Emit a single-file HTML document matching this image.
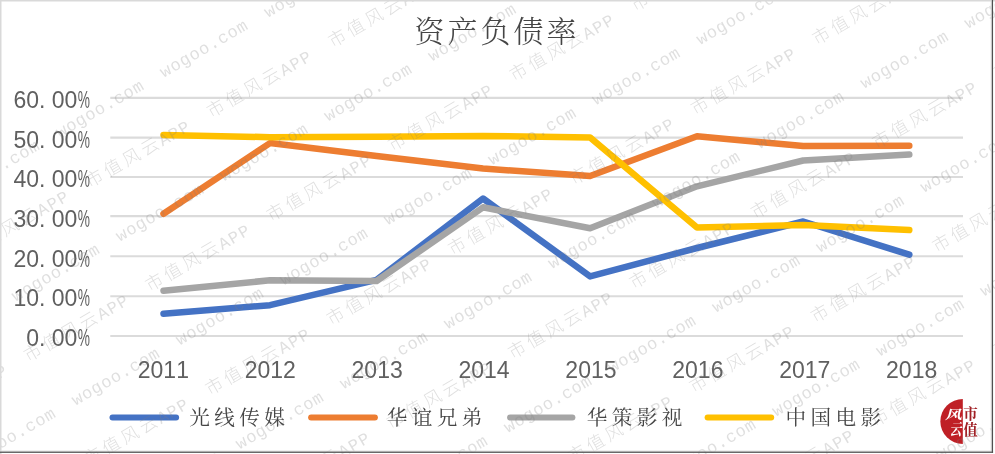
<!DOCTYPE html>
<html lang="zh"><head><meta charset="utf-8"><title>资产负债率</title>
<style>html,body{margin:0;padding:0;background:#fff;}svg{display:block;will-change:transform}.ax{font-family:"Liberation Sans",sans-serif;font-size:23px;fill:#606060}.kai{font-family:"Liberation Serif","Noto Serif CJK SC",serif;fill:#454545;font-weight:300}.wm{fill:#7f7f7f;fill-opacity:0.25}.wl{font-family:"Liberation Mono","DejaVu Sans Mono",monospace;font-size:17px}.wc{font-family:"Liberation Sans","Noto Sans CJK SC",sans-serif;font-size:17.6px;font-weight:300}</style></head><body>
<svg width="995" height="454" viewBox="0 0 995 454">
<rect x="0" y="0" width="995" height="454" fill="#ffffff"/>
<line x1="110.3" y1="97.90" x2="963.0" y2="97.90" stroke="#dbdbdb" stroke-width="2.1"/>
<line x1="110.3" y1="137.60" x2="963.0" y2="137.60" stroke="#dbdbdb" stroke-width="2.1"/>
<line x1="110.3" y1="177.00" x2="963.0" y2="177.00" stroke="#dbdbdb" stroke-width="2.1"/>
<line x1="110.3" y1="216.10" x2="963.0" y2="216.10" stroke="#dbdbdb" stroke-width="2.1"/>
<line x1="110.3" y1="256.20" x2="963.0" y2="256.20" stroke="#dbdbdb" stroke-width="2.1"/>
<line x1="110.3" y1="296.20" x2="963.0" y2="296.20" stroke="#dbdbdb" stroke-width="2.1"/>
<line x1="110.3" y1="336.00" x2="963.0" y2="336.00" stroke="#dbdbdb" stroke-width="2.1"/>
<polyline points="163.5,313.8 270.0,305.2 376.6,279.8 483.0,198.5 590.1,276.4 697.0,248.0 803.2,221.5 909.3,254.7" fill="none" stroke="#4472c4" stroke-width="6.5" stroke-linecap="round" stroke-linejoin="round"/>
<polyline points="163.5,213.8 270.0,143.1 376.6,156.0 483.0,168.5 590.1,176.0 697.0,136.3 803.2,146.1 909.3,145.7" fill="none" stroke="#ed7d31" stroke-width="6.5" stroke-linecap="round" stroke-linejoin="round"/>
<polyline points="163.5,290.8 270.0,280.3 376.6,281.0 483.0,207.3 590.1,228.3 697.0,186.3 803.2,160.5 909.3,154.6" fill="none" stroke="#a5a5a5" stroke-width="6.5" stroke-linecap="round" stroke-linejoin="round"/>
<polyline points="163.5,135.0 270.0,137.2 376.6,136.7 483.0,135.9 590.1,137.5 697.0,227.4 803.2,225.0 909.3,230.1" fill="none" stroke="#ffc000" stroke-width="6.5" stroke-linecap="round" stroke-linejoin="round"/>
<text class="ax" x="13.40 26.15 38.90 51.65 64.40" y="107.90">60.00</text>
<text class="ax" x="77.75" y="107.90" textLength="12.2" lengthAdjust="spacingAndGlyphs">%</text>
<text class="ax" x="13.40 26.15 38.90 51.65 64.40" y="147.55">50.00</text>
<text class="ax" x="77.75" y="147.55" textLength="12.2" lengthAdjust="spacingAndGlyphs">%</text>
<text class="ax" x="13.40 26.15 38.90 51.65 64.40" y="187.20">40.00</text>
<text class="ax" x="77.75" y="187.20" textLength="12.2" lengthAdjust="spacingAndGlyphs">%</text>
<text class="ax" x="13.40 26.15 38.90 51.65 64.40" y="226.85">30.00</text>
<text class="ax" x="77.75" y="226.85" textLength="12.2" lengthAdjust="spacingAndGlyphs">%</text>
<text class="ax" x="13.40 26.15 38.90 51.65 64.40" y="266.50">20.00</text>
<text class="ax" x="77.75" y="266.50" textLength="12.2" lengthAdjust="spacingAndGlyphs">%</text>
<text class="ax" x="13.40 26.15 38.90 51.65 64.40" y="306.15">10.00</text>
<text class="ax" x="77.75" y="306.15" textLength="12.2" lengthAdjust="spacingAndGlyphs">%</text>
<text class="ax" x="26.15 38.90 51.65 64.40" y="345.80">0.00</text>
<text class="ax" x="77.75" y="345.80" textLength="12.2" lengthAdjust="spacingAndGlyphs">%</text>
<text class="ax" x="137.75 150.55 163.35 176.15" y="377.6">2011</text>
<text class="ax" x="244.65 257.45 270.25 283.05" y="377.6">2012</text>
<text class="ax" x="351.55 364.35 377.15 389.95" y="377.6">2013</text>
<text class="ax" x="458.45 471.25 484.05 496.85" y="377.6">2014</text>
<text class="ax" x="565.35 578.15 590.95 603.75" y="377.6">2015</text>
<text class="ax" x="672.25 685.05 697.85 710.65" y="377.6">2016</text>
<text class="ax" x="779.15 791.95 804.75 817.55" y="377.6">2017</text>
<text class="ax" x="886.05 898.85 911.65 924.45" y="377.6">2018</text>
<text class="kai" font-size="30" text-anchor="middle" x="429.5 462.5 495.5 528.5 561.5" y="42.4">资产负债率</text>
<line x1="112.5" y1="417.6" x2="176.1" y2="417.6" stroke="#4472c4" stroke-width="6" stroke-linecap="round"/>
<text class="kai" style="font-weight:400" font-size="20.6" text-anchor="middle" x="199.6 224.6 249.6 274.6" y="425.4">光线传媒</text>
<line x1="311.1" y1="417.6" x2="374.9" y2="417.6" stroke="#ed7d31" stroke-width="6" stroke-linecap="round"/>
<text class="kai" style="font-weight:400" font-size="20.6" text-anchor="middle" x="397.1 422.1 447.1 472.1" y="425.4">华谊兄弟</text>
<line x1="510.1" y1="417.6" x2="572.4" y2="417.6" stroke="#a5a5a5" stroke-width="6" stroke-linecap="round"/>
<text class="kai" style="font-weight:400" font-size="20.6" text-anchor="middle" x="597.1 622.1 647.1 672.1" y="425.4">华策影视</text>
<line x1="707.6" y1="417.6" x2="771.2" y2="417.6" stroke="#ffc000" stroke-width="6" stroke-linecap="round"/>
<text class="kai" style="font-weight:400" font-size="20.6" text-anchor="middle" x="795.9 820.9 845.9 870.9" y="425.4">中国电影</text>
<path d="M962.8,399.0 A22.45,22.45 0 0 0 962.8,443.9 Z" fill="#bf2026"/>
<g font-family="'Liberation Serif','Noto Serif CJK SC',serif" font-weight="700">
<text x="0" y="0" font-size="15.5" fill="#ffffff" text-anchor="middle" transform="translate(953.6,419.2) skewX(-14) scale(1.1,0.8)">风</text>
<text x="0" y="0" font-size="12" fill="#ffffff" text-anchor="middle" transform="translate(955.6,435.2) skewX(-10) scale(1,1.32)">云</text>
<text x="970.5" y="418.6" font-size="14.5" fill="#a01f24" text-anchor="middle">市</text>
<text x="970.5" y="435.3" font-size="14.5" fill="#a01f24" text-anchor="middle">值</text>
</g>
<g class="wm" transform="rotate(-30)">
<text class="wl" x="-377.8 -366.8 -355.8 -344.8 -333.8 -322.8 -311.8 -300.8 -289.8" y="149.3">wogoo.com</text>
<text class="wl" x="-257.6 -246.6 -235.6 -224.6 -213.6 -202.6 -191.6 -180.6 -169.6" y="149.3">wogoo.com</text>
<text class="wl" x="-137.4 -126.4 -115.4 -104.4 -93.4 -82.4 -71.4 -60.4 -49.4" y="149.3">wogoo.com</text>
<text class="wl" x="-17.2 -6.2 4.8 15.8 26.8 37.8 48.8 59.8 70.8" y="149.3">wogoo.com</text>
<text class="wl" x="103.0 114.0 125.0 136.0 147.0 158.0 169.0 180.0 191.0" y="149.3">wogoo.com</text>
<text class="wl" x="223.2 234.2 245.2 256.2 267.2 278.2 289.2 300.2 311.2" y="149.3">wogoo.com</text>
<text class="wl" x="343.4 354.4 365.4 376.4 387.4 398.4 409.4 420.4 431.4" y="149.3">wogoo.com</text>
<text class="wl" x="463.6 474.6 485.6 496.6 507.6 518.6 529.6 540.6 551.6" y="149.3">wogoo.com</text>
<text class="wl" x="583.8 594.8 605.8 616.8 627.8 638.8 649.8 660.8 671.8" y="149.3">wogoo.com</text>
<text class="wl" x="704.0 715.0 726.0 737.0 748.0 759.0 770.0 781.0 792.0" y="149.3">wogoo.com</text>
<text class="wl" x="824.2 835.2 846.2 857.2 868.2 879.2 890.2 901.2 912.2" y="149.3">wogoo.com</text>
<text><tspan class="wc" x="-296.7 -275.4 -254.1 -232.8" y="207.9">市值风云</tspan><tspan class="wl" x="-213.0 -201.5 -190.0" y="208.1">APP</tspan></text>
<text><tspan class="wc" x="-156.5 -135.2 -113.9 -92.6" y="207.9">市值风云</tspan><tspan class="wl" x="-72.8 -61.3 -49.8" y="208.1">APP</tspan></text>
<text><tspan class="wc" x="-16.3 5.0 26.3 47.6" y="207.9">市值风云</tspan><tspan class="wl" x="67.4 78.9 90.4" y="208.1">APP</tspan></text>
<text><tspan class="wc" x="123.8 145.2 166.4 187.8" y="207.9">市值风云</tspan><tspan class="wl" x="207.6 219.1 230.6" y="208.1">APP</tspan></text>
<text><tspan class="wc" x="264.1 285.4 306.7 328.0" y="207.9">市值风云</tspan><tspan class="wl" x="347.8 359.3 370.8" y="208.1">APP</tspan></text>
<text><tspan class="wc" x="404.2 425.6 446.9 468.1" y="207.9">市值风云</tspan><tspan class="wl" x="488.0 499.5 511.0" y="208.1">APP</tspan></text>
<text><tspan class="wc" x="544.4 565.7 587.0 608.3" y="207.9">市值风云</tspan><tspan class="wl" x="628.2 639.7 651.2" y="208.1">APP</tspan></text>
<text><tspan class="wc" x="684.6 705.9 727.2 748.5" y="207.9">市值风云</tspan><tspan class="wl" x="768.4 779.9 791.4" y="208.1">APP</tspan></text>
<text><tspan class="wc" x="824.9 846.1 867.5 888.8" y="207.9">市值风云</tspan><tspan class="wl" x="908.6 920.1 931.6" y="208.1">APP</tspan></text>
<text class="wl" x="-377.8 -366.8 -355.8 -344.8 -333.8 -322.8 -311.8 -300.8 -289.8" y="269.2">wogoo.com</text>
<text class="wl" x="-257.6 -246.6 -235.6 -224.6 -213.6 -202.6 -191.6 -180.6 -169.6" y="269.2">wogoo.com</text>
<text class="wl" x="-137.4 -126.4 -115.4 -104.4 -93.4 -82.4 -71.4 -60.4 -49.4" y="269.2">wogoo.com</text>
<text class="wl" x="-17.2 -6.2 4.8 15.8 26.8 37.8 48.8 59.8 70.8" y="269.2">wogoo.com</text>
<text class="wl" x="103.0 114.0 125.0 136.0 147.0 158.0 169.0 180.0 191.0" y="269.2">wogoo.com</text>
<text class="wl" x="223.2 234.2 245.2 256.2 267.2 278.2 289.2 300.2 311.2" y="269.2">wogoo.com</text>
<text class="wl" x="343.4 354.4 365.4 376.4 387.4 398.4 409.4 420.4 431.4" y="269.2">wogoo.com</text>
<text class="wl" x="463.6 474.6 485.6 496.6 507.6 518.6 529.6 540.6 551.6" y="269.2">wogoo.com</text>
<text class="wl" x="583.8 594.8 605.8 616.8 627.8 638.8 649.8 660.8 671.8" y="269.2">wogoo.com</text>
<text class="wl" x="704.0 715.0 726.0 737.0 748.0 759.0 770.0 781.0 792.0" y="269.2">wogoo.com</text>
<text class="wl" x="824.2 835.2 846.2 857.2 868.2 879.2 890.2 901.2 912.2" y="269.2">wogoo.com</text>
<text><tspan class="wc" x="-296.7 -275.4 -254.1 -232.8" y="327.8">市值风云</tspan><tspan class="wl" x="-213.0 -201.5 -190.0" y="328.0">APP</tspan></text>
<text><tspan class="wc" x="-156.5 -135.2 -113.9 -92.6" y="327.8">市值风云</tspan><tspan class="wl" x="-72.8 -61.3 -49.8" y="328.0">APP</tspan></text>
<text><tspan class="wc" x="-16.3 5.0 26.3 47.6" y="327.8">市值风云</tspan><tspan class="wl" x="67.4 78.9 90.4" y="328.0">APP</tspan></text>
<text><tspan class="wc" x="123.8 145.2 166.4 187.8" y="327.8">市值风云</tspan><tspan class="wl" x="207.6 219.1 230.6" y="328.0">APP</tspan></text>
<text><tspan class="wc" x="264.1 285.4 306.7 328.0" y="327.8">市值风云</tspan><tspan class="wl" x="347.8 359.3 370.8" y="328.0">APP</tspan></text>
<text><tspan class="wc" x="404.2 425.6 446.9 468.1" y="327.8">市值风云</tspan><tspan class="wl" x="488.0 499.5 511.0" y="328.0">APP</tspan></text>
<text><tspan class="wc" x="544.4 565.7 587.0 608.3" y="327.8">市值风云</tspan><tspan class="wl" x="628.2 639.7 651.2" y="328.0">APP</tspan></text>
<text><tspan class="wc" x="684.6 705.9 727.2 748.5" y="327.8">市值风云</tspan><tspan class="wl" x="768.4 779.9 791.4" y="328.0">APP</tspan></text>
<text><tspan class="wc" x="824.9 846.1 867.5 888.8" y="327.8">市值风云</tspan><tspan class="wl" x="908.6 920.1 931.6" y="328.0">APP</tspan></text>
<text class="wl" x="-377.8 -366.8 -355.8 -344.8 -333.8 -322.8 -311.8 -300.8 -289.8" y="389.1">wogoo.com</text>
<text class="wl" x="-257.6 -246.6 -235.6 -224.6 -213.6 -202.6 -191.6 -180.6 -169.6" y="389.1">wogoo.com</text>
<text class="wl" x="-137.4 -126.4 -115.4 -104.4 -93.4 -82.4 -71.4 -60.4 -49.4" y="389.1">wogoo.com</text>
<text class="wl" x="-17.2 -6.2 4.8 15.8 26.8 37.8 48.8 59.8 70.8" y="389.1">wogoo.com</text>
<text class="wl" x="103.0 114.0 125.0 136.0 147.0 158.0 169.0 180.0 191.0" y="389.1">wogoo.com</text>
<text class="wl" x="223.2 234.2 245.2 256.2 267.2 278.2 289.2 300.2 311.2" y="389.1">wogoo.com</text>
<text class="wl" x="343.4 354.4 365.4 376.4 387.4 398.4 409.4 420.4 431.4" y="389.1">wogoo.com</text>
<text class="wl" x="463.6 474.6 485.6 496.6 507.6 518.6 529.6 540.6 551.6" y="389.1">wogoo.com</text>
<text class="wl" x="583.8 594.8 605.8 616.8 627.8 638.8 649.8 660.8 671.8" y="389.1">wogoo.com</text>
<text class="wl" x="704.0 715.0 726.0 737.0 748.0 759.0 770.0 781.0 792.0" y="389.1">wogoo.com</text>
<text class="wl" x="824.2 835.2 846.2 857.2 868.2 879.2 890.2 901.2 912.2" y="389.1">wogoo.com</text>
<text><tspan class="wc" x="-296.7 -275.4 -254.1 -232.8" y="447.7">市值风云</tspan><tspan class="wl" x="-213.0 -201.5 -190.0" y="447.9">APP</tspan></text>
<text><tspan class="wc" x="-156.5 -135.2 -113.9 -92.6" y="447.7">市值风云</tspan><tspan class="wl" x="-72.8 -61.3 -49.8" y="447.9">APP</tspan></text>
<text><tspan class="wc" x="-16.3 5.0 26.3 47.6" y="447.7">市值风云</tspan><tspan class="wl" x="67.4 78.9 90.4" y="447.9">APP</tspan></text>
<text><tspan class="wc" x="123.8 145.2 166.4 187.8" y="447.7">市值风云</tspan><tspan class="wl" x="207.6 219.1 230.6" y="447.9">APP</tspan></text>
<text><tspan class="wc" x="264.1 285.4 306.7 328.0" y="447.7">市值风云</tspan><tspan class="wl" x="347.8 359.3 370.8" y="447.9">APP</tspan></text>
<text><tspan class="wc" x="404.2 425.6 446.9 468.1" y="447.7">市值风云</tspan><tspan class="wl" x="488.0 499.5 511.0" y="447.9">APP</tspan></text>
<text><tspan class="wc" x="544.4 565.7 587.0 608.3" y="447.7">市值风云</tspan><tspan class="wl" x="628.2 639.7 651.2" y="447.9">APP</tspan></text>
<text><tspan class="wc" x="684.6 705.9 727.2 748.5" y="447.7">市值风云</tspan><tspan class="wl" x="768.4 779.9 791.4" y="447.9">APP</tspan></text>
<text><tspan class="wc" x="824.9 846.1 867.5 888.8" y="447.7">市值风云</tspan><tspan class="wl" x="908.6 920.1 931.6" y="447.9">APP</tspan></text>
<text class="wl" x="-377.8 -366.8 -355.8 -344.8 -333.8 -322.8 -311.8 -300.8 -289.8" y="509.0">wogoo.com</text>
<text class="wl" x="-257.6 -246.6 -235.6 -224.6 -213.6 -202.6 -191.6 -180.6 -169.6" y="509.0">wogoo.com</text>
<text class="wl" x="-137.4 -126.4 -115.4 -104.4 -93.4 -82.4 -71.4 -60.4 -49.4" y="509.0">wogoo.com</text>
<text class="wl" x="-17.2 -6.2 4.8 15.8 26.8 37.8 48.8 59.8 70.8" y="509.0">wogoo.com</text>
<text class="wl" x="103.0 114.0 125.0 136.0 147.0 158.0 169.0 180.0 191.0" y="509.0">wogoo.com</text>
<text class="wl" x="223.2 234.2 245.2 256.2 267.2 278.2 289.2 300.2 311.2" y="509.0">wogoo.com</text>
<text class="wl" x="343.4 354.4 365.4 376.4 387.4 398.4 409.4 420.4 431.4" y="509.0">wogoo.com</text>
<text class="wl" x="463.6 474.6 485.6 496.6 507.6 518.6 529.6 540.6 551.6" y="509.0">wogoo.com</text>
<text class="wl" x="583.8 594.8 605.8 616.8 627.8 638.8 649.8 660.8 671.8" y="509.0">wogoo.com</text>
<text class="wl" x="704.0 715.0 726.0 737.0 748.0 759.0 770.0 781.0 792.0" y="509.0">wogoo.com</text>
<text class="wl" x="824.2 835.2 846.2 857.2 868.2 879.2 890.2 901.2 912.2" y="509.0">wogoo.com</text>
<text><tspan class="wc" x="-296.7 -275.4 -254.1 -232.8" y="567.6">市值风云</tspan><tspan class="wl" x="-213.0 -201.5 -190.0" y="567.8">APP</tspan></text>
<text><tspan class="wc" x="-156.5 -135.2 -113.9 -92.6" y="567.6">市值风云</tspan><tspan class="wl" x="-72.8 -61.3 -49.8" y="567.8">APP</tspan></text>
<text><tspan class="wc" x="-16.3 5.0 26.3 47.6" y="567.6">市值风云</tspan><tspan class="wl" x="67.4 78.9 90.4" y="567.8">APP</tspan></text>
<text><tspan class="wc" x="123.8 145.2 166.4 187.8" y="567.6">市值风云</tspan><tspan class="wl" x="207.6 219.1 230.6" y="567.8">APP</tspan></text>
<text><tspan class="wc" x="264.1 285.4 306.7 328.0" y="567.6">市值风云</tspan><tspan class="wl" x="347.8 359.3 370.8" y="567.8">APP</tspan></text>
<text><tspan class="wc" x="404.2 425.6 446.9 468.1" y="567.6">市值风云</tspan><tspan class="wl" x="488.0 499.5 511.0" y="567.8">APP</tspan></text>
<text><tspan class="wc" x="544.4 565.7 587.0 608.3" y="567.6">市值风云</tspan><tspan class="wl" x="628.2 639.7 651.2" y="567.8">APP</tspan></text>
<text><tspan class="wc" x="684.6 705.9 727.2 748.5" y="567.6">市值风云</tspan><tspan class="wl" x="768.4 779.9 791.4" y="567.8">APP</tspan></text>
<text><tspan class="wc" x="824.9 846.1 867.5 888.8" y="567.6">市值风云</tspan><tspan class="wl" x="908.6 920.1 931.6" y="567.8">APP</tspan></text>
<text class="wl" x="-377.8 -366.8 -355.8 -344.8 -333.8 -322.8 -311.8 -300.8 -289.8" y="628.9">wogoo.com</text>
<text class="wl" x="-257.6 -246.6 -235.6 -224.6 -213.6 -202.6 -191.6 -180.6 -169.6" y="628.9">wogoo.com</text>
<text class="wl" x="-137.4 -126.4 -115.4 -104.4 -93.4 -82.4 -71.4 -60.4 -49.4" y="628.9">wogoo.com</text>
<text class="wl" x="-17.2 -6.2 4.8 15.8 26.8 37.8 48.8 59.8 70.8" y="628.9">wogoo.com</text>
<text class="wl" x="103.0 114.0 125.0 136.0 147.0 158.0 169.0 180.0 191.0" y="628.9">wogoo.com</text>
<text class="wl" x="223.2 234.2 245.2 256.2 267.2 278.2 289.2 300.2 311.2" y="628.9">wogoo.com</text>
<text class="wl" x="343.4 354.4 365.4 376.4 387.4 398.4 409.4 420.4 431.4" y="628.9">wogoo.com</text>
<text class="wl" x="463.6 474.6 485.6 496.6 507.6 518.6 529.6 540.6 551.6" y="628.9">wogoo.com</text>
<text class="wl" x="583.8 594.8 605.8 616.8 627.8 638.8 649.8 660.8 671.8" y="628.9">wogoo.com</text>
<text class="wl" x="704.0 715.0 726.0 737.0 748.0 759.0 770.0 781.0 792.0" y="628.9">wogoo.com</text>
<text class="wl" x="824.2 835.2 846.2 857.2 868.2 879.2 890.2 901.2 912.2" y="628.9">wogoo.com</text>
<text><tspan class="wc" x="-296.7 -275.4 -254.1 -232.8" y="687.5">市值风云</tspan><tspan class="wl" x="-213.0 -201.5 -190.0" y="687.7">APP</tspan></text>
<text><tspan class="wc" x="-156.5 -135.2 -113.9 -92.6" y="687.5">市值风云</tspan><tspan class="wl" x="-72.8 -61.3 -49.8" y="687.7">APP</tspan></text>
<text><tspan class="wc" x="-16.3 5.0 26.3 47.6" y="687.5">市值风云</tspan><tspan class="wl" x="67.4 78.9 90.4" y="687.7">APP</tspan></text>
<text><tspan class="wc" x="123.8 145.2 166.4 187.8" y="687.5">市值风云</tspan><tspan class="wl" x="207.6 219.1 230.6" y="687.7">APP</tspan></text>
<text><tspan class="wc" x="264.1 285.4 306.7 328.0" y="687.5">市值风云</tspan><tspan class="wl" x="347.8 359.3 370.8" y="687.7">APP</tspan></text>
<text><tspan class="wc" x="404.2 425.6 446.9 468.1" y="687.5">市值风云</tspan><tspan class="wl" x="488.0 499.5 511.0" y="687.7">APP</tspan></text>
<text><tspan class="wc" x="544.4 565.7 587.0 608.3" y="687.5">市值风云</tspan><tspan class="wl" x="628.2 639.7 651.2" y="687.7">APP</tspan></text>
<text><tspan class="wc" x="684.6 705.9 727.2 748.5" y="687.5">市值风云</tspan><tspan class="wl" x="768.4 779.9 791.4" y="687.7">APP</tspan></text>
<text><tspan class="wc" x="824.9 846.1 867.5 888.8" y="687.5">市值风云</tspan><tspan class="wl" x="908.6 920.1 931.6" y="687.7">APP</tspan></text>
<text class="wl" x="-377.8 -366.8 -355.8 -344.8 -333.8 -322.8 -311.8 -300.8 -289.8" y="748.8">wogoo.com</text>
<text class="wl" x="-257.6 -246.6 -235.6 -224.6 -213.6 -202.6 -191.6 -180.6 -169.6" y="748.8">wogoo.com</text>
<text class="wl" x="-137.4 -126.4 -115.4 -104.4 -93.4 -82.4 -71.4 -60.4 -49.4" y="748.8">wogoo.com</text>
<text class="wl" x="-17.2 -6.2 4.8 15.8 26.8 37.8 48.8 59.8 70.8" y="748.8">wogoo.com</text>
<text class="wl" x="103.0 114.0 125.0 136.0 147.0 158.0 169.0 180.0 191.0" y="748.8">wogoo.com</text>
<text class="wl" x="223.2 234.2 245.2 256.2 267.2 278.2 289.2 300.2 311.2" y="748.8">wogoo.com</text>
<text class="wl" x="343.4 354.4 365.4 376.4 387.4 398.4 409.4 420.4 431.4" y="748.8">wogoo.com</text>
<text class="wl" x="463.6 474.6 485.6 496.6 507.6 518.6 529.6 540.6 551.6" y="748.8">wogoo.com</text>
<text class="wl" x="583.8 594.8 605.8 616.8 627.8 638.8 649.8 660.8 671.8" y="748.8">wogoo.com</text>
<text class="wl" x="704.0 715.0 726.0 737.0 748.0 759.0 770.0 781.0 792.0" y="748.8">wogoo.com</text>
<text class="wl" x="824.2 835.2 846.2 857.2 868.2 879.2 890.2 901.2 912.2" y="748.8">wogoo.com</text>
<text><tspan class="wc" x="-296.7 -275.4 -254.1 -232.8" y="807.4">市值风云</tspan><tspan class="wl" x="-213.0 -201.5 -190.0" y="807.6">APP</tspan></text>
<text><tspan class="wc" x="-156.5 -135.2 -113.9 -92.6" y="807.4">市值风云</tspan><tspan class="wl" x="-72.8 -61.3 -49.8" y="807.6">APP</tspan></text>
<text><tspan class="wc" x="-16.3 5.0 26.3 47.6" y="807.4">市值风云</tspan><tspan class="wl" x="67.4 78.9 90.4" y="807.6">APP</tspan></text>
<text><tspan class="wc" x="123.8 145.2 166.4 187.8" y="807.4">市值风云</tspan><tspan class="wl" x="207.6 219.1 230.6" y="807.6">APP</tspan></text>
<text><tspan class="wc" x="264.1 285.4 306.7 328.0" y="807.4">市值风云</tspan><tspan class="wl" x="347.8 359.3 370.8" y="807.6">APP</tspan></text>
<text><tspan class="wc" x="404.2 425.6 446.9 468.1" y="807.4">市值风云</tspan><tspan class="wl" x="488.0 499.5 511.0" y="807.6">APP</tspan></text>
<text><tspan class="wc" x="544.4 565.7 587.0 608.3" y="807.4">市值风云</tspan><tspan class="wl" x="628.2 639.7 651.2" y="807.6">APP</tspan></text>
<text><tspan class="wc" x="684.6 705.9 727.2 748.5" y="807.4">市值风云</tspan><tspan class="wl" x="768.4 779.9 791.4" y="807.6">APP</tspan></text>
<text><tspan class="wc" x="824.9 846.1 867.5 888.8" y="807.4">市值风云</tspan><tspan class="wl" x="908.6 920.1 931.6" y="807.6">APP</tspan></text>
<text class="wl" x="-377.8 -366.8 -355.8 -344.8 -333.8 -322.8 -311.8 -300.8 -289.8" y="868.7">wogoo.com</text>
<text class="wl" x="-257.6 -246.6 -235.6 -224.6 -213.6 -202.6 -191.6 -180.6 -169.6" y="868.7">wogoo.com</text>
<text class="wl" x="-137.4 -126.4 -115.4 -104.4 -93.4 -82.4 -71.4 -60.4 -49.4" y="868.7">wogoo.com</text>
<text class="wl" x="-17.2 -6.2 4.8 15.8 26.8 37.8 48.8 59.8 70.8" y="868.7">wogoo.com</text>
<text class="wl" x="103.0 114.0 125.0 136.0 147.0 158.0 169.0 180.0 191.0" y="868.7">wogoo.com</text>
<text class="wl" x="223.2 234.2 245.2 256.2 267.2 278.2 289.2 300.2 311.2" y="868.7">wogoo.com</text>
<text class="wl" x="343.4 354.4 365.4 376.4 387.4 398.4 409.4 420.4 431.4" y="868.7">wogoo.com</text>
<text class="wl" x="463.6 474.6 485.6 496.6 507.6 518.6 529.6 540.6 551.6" y="868.7">wogoo.com</text>
<text class="wl" x="583.8 594.8 605.8 616.8 627.8 638.8 649.8 660.8 671.8" y="868.7">wogoo.com</text>
<text class="wl" x="704.0 715.0 726.0 737.0 748.0 759.0 770.0 781.0 792.0" y="868.7">wogoo.com</text>
<text class="wl" x="824.2 835.2 846.2 857.2 868.2 879.2 890.2 901.2 912.2" y="868.7">wogoo.com</text>
<text><tspan class="wc" x="-296.7 -275.4 -254.1 -232.8" y="927.3">市值风云</tspan><tspan class="wl" x="-213.0 -201.5 -190.0" y="927.5">APP</tspan></text>
<text><tspan class="wc" x="-156.5 -135.2 -113.9 -92.6" y="927.3">市值风云</tspan><tspan class="wl" x="-72.8 -61.3 -49.8" y="927.5">APP</tspan></text>
<text><tspan class="wc" x="-16.3 5.0 26.3 47.6" y="927.3">市值风云</tspan><tspan class="wl" x="67.4 78.9 90.4" y="927.5">APP</tspan></text>
<text><tspan class="wc" x="123.8 145.2 166.4 187.8" y="927.3">市值风云</tspan><tspan class="wl" x="207.6 219.1 230.6" y="927.5">APP</tspan></text>
<text><tspan class="wc" x="264.1 285.4 306.7 328.0" y="927.3">市值风云</tspan><tspan class="wl" x="347.8 359.3 370.8" y="927.5">APP</tspan></text>
<text><tspan class="wc" x="404.2 425.6 446.9 468.1" y="927.3">市值风云</tspan><tspan class="wl" x="488.0 499.5 511.0" y="927.5">APP</tspan></text>
<text><tspan class="wc" x="544.4 565.7 587.0 608.3" y="927.3">市值风云</tspan><tspan class="wl" x="628.2 639.7 651.2" y="927.5">APP</tspan></text>
<text><tspan class="wc" x="684.6 705.9 727.2 748.5" y="927.3">市值风云</tspan><tspan class="wl" x="768.4 779.9 791.4" y="927.5">APP</tspan></text>
<text><tspan class="wc" x="824.9 846.1 867.5 888.8" y="927.3">市值风云</tspan><tspan class="wl" x="908.6 920.1 931.6" y="927.5">APP</tspan></text>
<text class="wl" x="-377.8 -366.8 -355.8 -344.8 -333.8 -322.8 -311.8 -300.8 -289.8" y="988.6">wogoo.com</text>
<text class="wl" x="-257.6 -246.6 -235.6 -224.6 -213.6 -202.6 -191.6 -180.6 -169.6" y="988.6">wogoo.com</text>
<text class="wl" x="-137.4 -126.4 -115.4 -104.4 -93.4 -82.4 -71.4 -60.4 -49.4" y="988.6">wogoo.com</text>
<text class="wl" x="-17.2 -6.2 4.8 15.8 26.8 37.8 48.8 59.8 70.8" y="988.6">wogoo.com</text>
<text class="wl" x="103.0 114.0 125.0 136.0 147.0 158.0 169.0 180.0 191.0" y="988.6">wogoo.com</text>
<text class="wl" x="223.2 234.2 245.2 256.2 267.2 278.2 289.2 300.2 311.2" y="988.6">wogoo.com</text>
<text class="wl" x="343.4 354.4 365.4 376.4 387.4 398.4 409.4 420.4 431.4" y="988.6">wogoo.com</text>
<text class="wl" x="463.6 474.6 485.6 496.6 507.6 518.6 529.6 540.6 551.6" y="988.6">wogoo.com</text>
<text class="wl" x="583.8 594.8 605.8 616.8 627.8 638.8 649.8 660.8 671.8" y="988.6">wogoo.com</text>
<text class="wl" x="704.0 715.0 726.0 737.0 748.0 759.0 770.0 781.0 792.0" y="988.6">wogoo.com</text>
<text class="wl" x="824.2 835.2 846.2 857.2 868.2 879.2 890.2 901.2 912.2" y="988.6">wogoo.com</text>
<text><tspan class="wc" x="-296.7 -275.4 -254.1 -232.8" y="1047.2">市值风云</tspan><tspan class="wl" x="-213.0 -201.5 -190.0" y="1047.4">APP</tspan></text>
<text><tspan class="wc" x="-156.5 -135.2 -113.9 -92.6" y="1047.2">市值风云</tspan><tspan class="wl" x="-72.8 -61.3 -49.8" y="1047.4">APP</tspan></text>
<text><tspan class="wc" x="-16.3 5.0 26.3 47.6" y="1047.2">市值风云</tspan><tspan class="wl" x="67.4 78.9 90.4" y="1047.4">APP</tspan></text>
<text><tspan class="wc" x="123.8 145.2 166.4 187.8" y="1047.2">市值风云</tspan><tspan class="wl" x="207.6 219.1 230.6" y="1047.4">APP</tspan></text>
<text><tspan class="wc" x="264.1 285.4 306.7 328.0" y="1047.2">市值风云</tspan><tspan class="wl" x="347.8 359.3 370.8" y="1047.4">APP</tspan></text>
<text><tspan class="wc" x="404.2 425.6 446.9 468.1" y="1047.2">市值风云</tspan><tspan class="wl" x="488.0 499.5 511.0" y="1047.4">APP</tspan></text>
<text><tspan class="wc" x="544.4 565.7 587.0 608.3" y="1047.2">市值风云</tspan><tspan class="wl" x="628.2 639.7 651.2" y="1047.4">APP</tspan></text>
<text><tspan class="wc" x="684.6 705.9 727.2 748.5" y="1047.2">市值风云</tspan><tspan class="wl" x="768.4 779.9 791.4" y="1047.4">APP</tspan></text>
<text><tspan class="wc" x="824.9 846.1 867.5 888.8" y="1047.2">市值风云</tspan><tspan class="wl" x="908.6 920.1 931.6" y="1047.4">APP</tspan></text>
</g>
<rect x="0" y="0" width="995" height="1.5" fill="#d9d9d9"/>
<rect x="0" y="0" width="1.5" height="454" fill="#d9d9d9"/>
<rect x="990.7" y="0" width="1.1" height="451.8" fill="#e2e2e2"/>
<rect x="0" y="450.5" width="991.8" height="1.1" fill="#e2e2e2"/>
<rect x="991.8" y="0" width="1.25" height="452.85" fill="#505050"/>
<rect x="0" y="451.6" width="993.05" height="1.25" fill="#505050"/>
</svg></body></html>
